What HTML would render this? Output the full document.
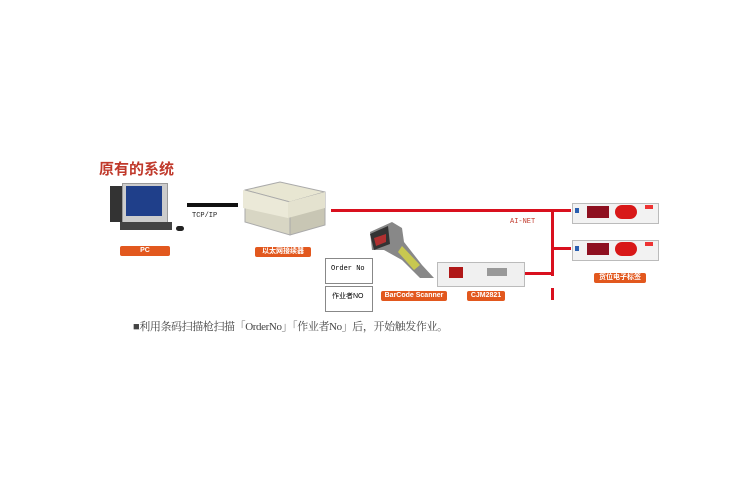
<!DOCTYPE html>
<html><head><meta charset="utf-8"><style>
body{margin:0;width:750px;height:500px;background:#fff;position:relative;overflow:hidden;font-family:"Liberation Sans","Noto Sans CJK SC",sans-serif}
.a{position:absolute}
.lbl{position:absolute;background:#e2581e;color:#fff;font-size:7px;font-weight:bold;text-align:center;border-radius:2px;line-height:10px;height:10px}
</style></head><body>
<div class="a" style="left:99px;top:160px;font-size:15px;line-height:18px;color:#c0392b;font-weight:bold;font-family:'Noto Sans CJK SC',sans-serif">原有的系统</div>
<!-- PC -->
<div class="a" style="left:110px;top:186px;width:12px;height:36px;background:#333"></div>
<div class="a" style="left:122px;top:183px;width:44px;height:38px;background:#ccc;border:1px solid #999"></div>
<div class="a" style="left:126px;top:186px;width:36px;height:30px;background:#1f3f8a"></div>
<div class="a" style="left:120px;top:222px;width:52px;height:8px;background:#444"></div>
<div class="a" style="left:176px;top:226px;width:8px;height:5px;background:#222;border-radius:3px"></div>
<div class="lbl" style="left:120px;top:246px;width:50px">PC</div>
<!-- TCP -->
<div class="a" style="left:187px;top:203px;width:51px;height:4px;background:#111"></div>
<div class="a" style="left:192px;top:212px;font-size:7px;font-family:'Liberation Mono',monospace;color:#222">TCP/IP</div>
<!-- converter box -->
<svg class="a" style="left:240px;top:180px" width="90" height="58"><polygon points="5,10 40,2 85,12 50,22" fill="#e8e6d2" stroke="#aaa"/><polygon points="5,10 50,22 50,55 5,42" fill="#d8d6c4" stroke="#aaa"/><polygon points="50,22 85,12 85,45 50,55" fill="#c8c6b4" stroke="#aaa"/><polygon points="3,10 48,22 48,38 3,28" fill="#ebe9d8"/><polygon points="48,22 85,12 85,28 48,38" fill="#e4e2cf"/></svg>
<div class="lbl" style="left:255px;top:247px;width:56px">以太网接续器</div>
<!-- red lines -->
<div class="a" style="left:331px;top:209px;width:240px;height:3px;background:#d9101e"></div>
<div class="a" style="left:551px;top:209px;width:3px;height:67px;background:#d9101e"></div>
<div class="a" style="left:551px;top:288px;width:3px;height:12px;background:#d9101e"></div>
<div class="a" style="left:551px;top:247px;width:20px;height:3px;background:#d9101e"></div>
<div class="a" style="left:523px;top:272px;width:30px;height:3px;background:#d9101e"></div>
<div class="a" style="left:510px;top:218px;font-size:7px;color:#c0392b;font-family:'Liberation Mono',monospace">AI-NET</div>
<!-- tags -->
<div class="a" style="left:572px;top:203px;width:85px;height:19px;background:#f2f2f2;border:1px solid #bbb"></div>
<div class="a" style="left:575px;top:208px;width:4px;height:5px;background:#2a5fb0"></div>
<div class="a" style="left:587px;top:206px;width:22px;height:12px;background:#8e1020"></div>
<div class="a" style="left:615px;top:205px;width:22px;height:14px;background:#d81818;border-radius:8px"></div>
<div class="a" style="left:645px;top:205px;width:8px;height:4px;background:#e33"></div>
<div class="a" style="left:572px;top:240px;width:85px;height:19px;background:#f2f2f2;border:1px solid #bbb"></div>
<div class="a" style="left:575px;top:246px;width:4px;height:5px;background:#2a5fb0"></div>
<div class="a" style="left:587px;top:243px;width:22px;height:12px;background:#8e1020"></div>
<div class="a" style="left:615px;top:242px;width:22px;height:14px;background:#d81818;border-radius:8px"></div>
<div class="a" style="left:645px;top:242px;width:8px;height:4px;background:#e33"></div>
<div class="lbl" style="left:594px;top:273px;width:52px">货位电子标签</div>
<!-- scanner -->
<svg class="a" style="left:362px;top:220px" width="75" height="62"><polygon points="8,12 30,2 40,8 42,22 60,45 72,58 58,58 40,40 22,30 10,30" fill="#888"/><polygon points="8,14 26,6 28,24 12,30" fill="#333"/><polygon points="12,18 24,14 24,22 14,26" fill="#b03030"/><polygon points="40,26 58,45 52,50 36,32" fill="#c8c850"/></svg>
<div class="a" style="left:437px;top:262px;width:86px;height:23px;background:#f0f0f0;border:1px solid #bbb"></div>
<div class="a" style="left:449px;top:267px;width:14px;height:11px;background:#b01818"></div>
<div class="a" style="left:487px;top:268px;width:20px;height:8px;background:#999"></div>
<div class="lbl" style="left:381px;top:291px;width:66px">BarCode Scanner</div>
<div class="lbl" style="left:467px;top:291px;width:38px">CJM2821</div>
<!-- paper -->
<div class="a" style="left:325px;top:258px;width:48px;height:26px;background:#fff;border:1px solid #888;font-size:7px;font-family:'Liberation Mono',monospace;line-height:20px;padding-left:5px;box-sizing:border-box">Order No</div>
<div class="a" style="left:325px;top:286px;width:48px;height:26px;background:#fff;border:1px solid #888;font-size:7px;line-height:20px;padding-left:6px;box-sizing:border-box">作业者NO</div>
<!-- bottom text -->
<div class="a" style="left:133px;top:318px;font-size:11px;letter-spacing:-0.4px;color:#444;font-family:'Liberation Serif','Noto Serif CJK SC',serif;white-space:nowrap">■利用条码扫描枪扫描「OrderNo」「作业者No」后，开始触发作业。</div>
</body></html>
